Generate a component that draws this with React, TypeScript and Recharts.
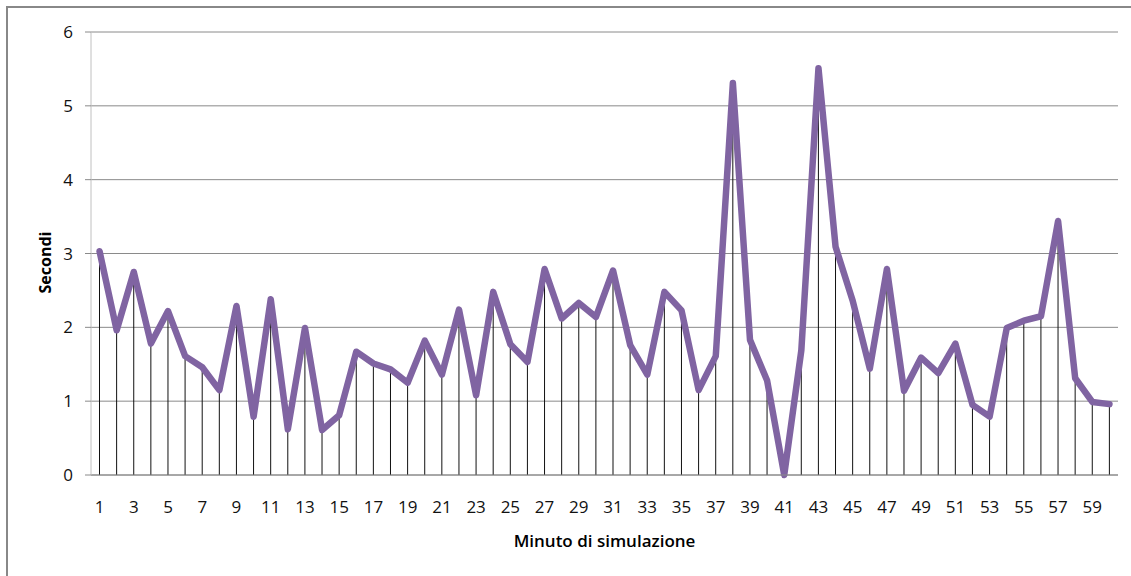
import React from 'react';
import { ComposedChart, Line, Bar, XAxis, YAxis, CartesianGrid, Label } from 'recharts';

const minutes: number[] = Array.from({ length: 60 }, (_, i) => i + 1);
const seconds: number[] = [
  3.03, 1.96, 2.75, 1.78, 2.22, 1.61, 1.46, 1.15, 2.29, 0.79,
  2.38, 0.62, 1.99, 0.61, 0.81, 1.67, 1.51, 1.43, 1.25, 1.82,
  1.36, 2.24, 1.08, 2.48, 1.77, 1.53, 2.79, 2.12, 2.33, 2.14,
  2.77, 1.76, 1.36, 2.48, 2.23, 1.15, 1.61, 5.31, 1.83, 1.28,
  0.0, 1.69, 5.51, 3.09, 2.36, 1.44, 2.79, 1.14, 1.59, 1.38,
  1.78, 0.95, 0.79, 1.99, 2.09, 2.15, 3.44, 1.31, 0.99, 0.96,
];
const yTicks: number[] = [0, 1, 2, 3, 4, 5, 6];

const data = minutes.map((m, i) => ({ minuto: m, secondi: seconds[i] }));

const FONT = '"Open Sans", "Noto Sans", sans-serif';

export default function App() {
  return (
    <div style={{ position: 'absolute', left: 0, top: 0, width: 1131, height: 576, overflow: 'hidden', background: '#fff' }}>
      <div
        style={{
          position: 'absolute',
          left: 6,
          top: 6,
          width: 1125,
          height: 570,
          borderTop: '2px solid #888',
          borderLeft: '2px solid #888',
          boxSizing: 'border-box',
        }}
      />
      <div style={{ position: 'absolute', left: 0, top: 0 }}>
        <ComposedChart
          width={1131}
          height={576}
          data={data}
          margin={{ top: 32, right: 13, bottom: 21, left: 31 }}
          barCategoryGap={0}
        >
          <CartesianGrid horizontal={true} vertical={false} stroke="#8a8a8a" strokeWidth={1} />
          <XAxis
            dataKey="minuto"
            interval={1}
            tickLine={false}
            axisLine={{ stroke: '#8a8a8a', strokeWidth: 1 }}
            tickMargin={20}
            height={80}
            tick={{ fill: '#111', fontSize: 17, fontFamily: FONT }}
          >
            <Label
              value="Minuto di simulazione"
              position="insideBottom"
              offset={8}
              style={{ fill: '#000', fontSize: 17, fontWeight: 600, fontFamily: FONT }}
            />
          </XAxis>
          <YAxis
            domain={[0, 6]}
            ticks={yTicks}
            interval={0}
            width={60}
            tickSize={6}
            tickMargin={12}
            tickLine={{ stroke: '#8a8a8a' }}
            axisLine={{ stroke: '#c0c0c0', strokeWidth: 1 }}
            tick={{ fill: '#111', fontSize: 17, fontFamily: FONT }}
          >
            <Label
              value="Secondi"
              angle={-90}
              position="insideLeft"
              offset={14}
              dy={9}
              style={{ fill: '#000', fontSize: 16, fontWeight: 700, fontFamily: FONT, textAnchor: 'middle' }}
            />
          </YAxis>
          <Line
            type="linear"
            dataKey="secondi"
            stroke="#8064A2"
            strokeWidth={6.5}
            strokeLinejoin="round"
            strokeLinecap="round"
            dot={false}
            activeDot={false}
            isAnimationActive={false}
          />
          <Bar dataKey="secondi" barSize={1} fill="#111" isAnimationActive={false} />
        </ComposedChart>
      </div>
    </div>
  );
}
